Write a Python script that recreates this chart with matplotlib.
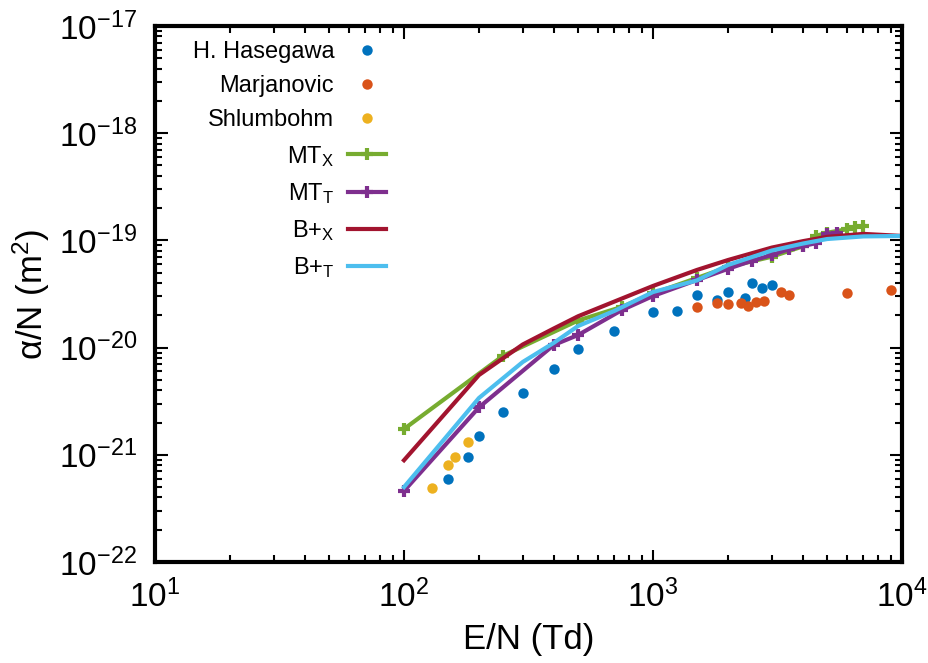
import matplotlib
matplotlib.use('Agg')
import matplotlib.pyplot as plt
from matplotlib.ticker import LogLocator, NullFormatter

plt.rcParams['font.family'] = ['Liberation Sans', 'DejaVu Sans']
plt.rcParams['mathtext.fontset'] = 'custom'
plt.rcParams['mathtext.rm'] = 'Liberation Sans'
plt.rcParams['mathtext.it'] = 'Liberation Sans:italic'
plt.rcParams['mathtext.default'] = 'regular'

# measurements
has_E = [150, 180, 200, 250, 300, 400, 500, 700, 1000, 1250, 1500, 1800, 2000, 2350, 2500, 2750, 3000]
has_a = [6.0e-22, 9.5e-22, 1.49e-21, 2.5e-21, 3.8e-21, 6.3e-21, 9.8e-21, 1.44e-20, 2.17e-20, 2.18e-20,
         3.1e-20, 2.78e-20, 3.3e-20, 2.92e-20, 4.03e-20, 3.62e-20, 3.81e-20]

mar_E = [1500, 1800, 2000, 2250, 2400, 2600, 2800, 3250, 3500, 6000, 9000]
mar_a = [2.39e-20, 2.61e-20, 2.54e-20, 2.61e-20, 2.44e-20, 2.68e-20, 2.72e-20, 3.32e-20, 3.1e-20, 3.25e-20, 3.44e-20]

shl_E = [130, 150, 160, 180]
shl_a = [4.9e-22, 8.0e-22, 9.5e-22, 1.31e-21]

# MT calculations
mtx_E = [100, 250, 500, 750, 1000, 1500, 2000, 3000, 4000, 4500, 5000, 6000, 6500, 7000]
mtx_a = [1.74e-21, 8.4e-21, 1.79e-20, 2.4e-20, 3.2e-20, 4.46e-20, 5.65e-20, 7.05e-20, 8.8e-20,
         1.10e-19, 1.18e-19, 1.27e-19, 1.33e-19, 1.36e-19]

mtt_E = [100, 200, 400, 500, 750, 1000, 1500, 2000, 2500, 3000, 3500, 4000, 4500, 5000, 5500]
mtt_a = [4.6e-22, 2.77e-21, 1.06e-20, 1.31e-20, 2.24e-20, 3.03e-20, 4.27e-20, 5.43e-20, 6.47e-20,
         7.31e-20, 8.26e-20, 8.87e-20, 9.4e-20, 1.15e-19, 1.18e-19]

# B+ calculations
bx_E = [100, 200, 300, 400, 500, 700, 1000, 1500, 2000, 3000, 4000, 5000, 7000, 10000]
bx_a = [8.9e-22, 5.55e-21, 1.07e-20, 1.51e-20, 1.96e-20, 2.69e-20, 3.76e-20, 5.3e-20, 6.56e-20,
        8.57e-20, 9.84e-20, 1.08e-19, 1.15e-19, 1.10e-19]

bt_E = [100, 200, 300, 400, 500, 700, 1000, 1500, 2000, 3000, 4000, 5000, 7000, 10000]
bt_a = [5.0e-22, 3.39e-21, 7.35e-21, 1.11e-20, 1.59e-20, 2.2e-20, 3.3e-20, 4.23e-20, 5.9e-20,
        8.05e-20, 9.35e-20, 1.03e-19, 1.09e-19, 1.10e-19]

fig = plt.figure(figsize=(9.29, 6.63), dpi=100)
ax = fig.add_axes([0.1668, 0.1523, 0.8042, 0.8085])

ax.plot(has_E, has_a, 'o', color='#0072bd', ms=7.5, mec='none', label='H. Hasegawa')
ax.plot(mar_E, mar_a, 'o', color='#d95319', ms=7.5, mec='none', label='Marjanovic')
ax.plot(shl_E, shl_a, 'o', color='#edb120', ms=7.5, mec='none', label='Shlumbohm')
ax.plot(mtx_E, mtx_a, '-+', color='#77ac30', lw=3, ms=9, mew=3, label='MT$_\\mathregular{X}$')
ax.plot(mtt_E, mtt_a, '-+', color='#7e2f8e', lw=3, ms=9, mew=3, label='MT$_\\mathregular{T}$')
ax.plot(bx_E, bx_a, '-', color='#a2142f', lw=3, label='B+$_\\mathregular{X}$')
ax.plot(bt_E, bt_a, '-', color='#4dbeee', lw=3, label='B+$_\\mathregular{T}$')

ax.set_xscale('log')
ax.set_yscale('log')
ax.set_xlim(10, 1e4)
ax.set_ylim(1e-22, 1e-17)
ax.xaxis.set_major_locator(LogLocator(base=10, numticks=10))
ax.yaxis.set_major_locator(LogLocator(base=10, numticks=10))
ax.xaxis.set_minor_locator(LogLocator(base=10, subs=range(2, 10), numticks=20))
ax.yaxis.set_minor_locator(LogLocator(base=10, subs=range(2, 10), numticks=20))
ax.yaxis.set_minor_formatter(NullFormatter())
ax.xaxis.set_minor_formatter(NullFormatter())

ax.tick_params(which='both', direction='in', top=True, right=True, labelsize=24, width=1.5)
ax.tick_params(which='major', length=9)
ax.tick_params(which='minor', length=5)
ax.tick_params(axis='x', which='major', pad=13)
ax.tick_params(axis='y', which='major', pad=13)
for s in ax.spines.values():
    s.set_linewidth(3)

ax.set_xlabel('E/N (Td)', fontsize=25, labelpad=6)
ax.set_ylabel('α/N (m$^2$)', fontsize=25, labelpad=5)

ax.legend(loc='upper right', bbox_to_anchor=(0.322, 0.99), borderaxespad=0, frameon=False,
          markerfirst=False, fontsize=17, handlelength=1.6, handletextpad=0.6,
          labelspacing=0.52, numpoints=1)

fig.savefig('out.png', dpi=100)
